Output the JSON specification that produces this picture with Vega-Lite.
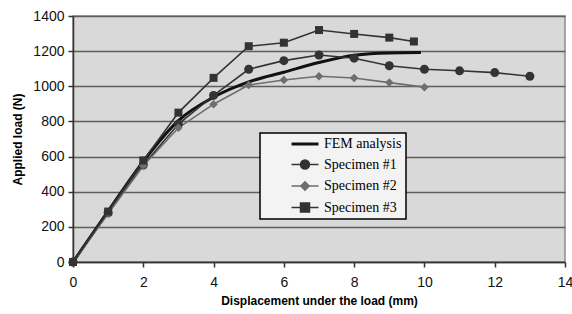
{
  "$schema": "https://vega.github.io/schema/vega-lite/v6.json",
  "width": 492,
  "height": 246,
  "autosize": "none",
  "padding": {"left": 73, "top": 16, "right": 7, "bottom": 52},
  "background": "white",
  "config": {
    "view": {"fill": "#d9d9d9", "stroke": "#8c8c8c", "strokeWidth": 1.5},
    "font": "Liberation Sans"
  },
  "data": {
    "values": [
      {"series": "FEM analysis", "d": 0, "load": 0},
      {"series": "FEM analysis", "d": 1, "load": 290},
      {"series": "FEM analysis", "d": 2, "load": 573},
      {"series": "FEM analysis", "d": 3, "load": 805},
      {"series": "FEM analysis", "d": 4, "load": 938},
      {"series": "FEM analysis", "d": 5, "load": 1025},
      {"series": "FEM analysis", "d": 6, "load": 1080},
      {"series": "FEM analysis", "d": 7, "load": 1135},
      {"series": "FEM analysis", "d": 8, "load": 1176},
      {"series": "FEM analysis", "d": 9, "load": 1190},
      {"series": "FEM analysis", "d": 9.9, "load": 1192},
      {"series": "Specimen #1", "d": 0, "load": 0},
      {"series": "Specimen #1", "d": 1, "load": 280},
      {"series": "Specimen #1", "d": 2, "load": 552},
      {"series": "Specimen #1", "d": 3, "load": 785},
      {"series": "Specimen #1", "d": 4, "load": 948},
      {"series": "Specimen #1", "d": 5, "load": 1097},
      {"series": "Specimen #1", "d": 6, "load": 1146},
      {"series": "Specimen #1", "d": 7, "load": 1178},
      {"series": "Specimen #1", "d": 8, "load": 1160},
      {"series": "Specimen #1", "d": 9, "load": 1117},
      {"series": "Specimen #1", "d": 10, "load": 1097},
      {"series": "Specimen #1", "d": 11, "load": 1088},
      {"series": "Specimen #1", "d": 12, "load": 1078},
      {"series": "Specimen #1", "d": 13, "load": 1057},
      {"series": "Specimen #2", "d": 0, "load": 0},
      {"series": "Specimen #2", "d": 1, "load": 275},
      {"series": "Specimen #2", "d": 2, "load": 548},
      {"series": "Specimen #2", "d": 3, "load": 764},
      {"series": "Specimen #2", "d": 4, "load": 898},
      {"series": "Specimen #2", "d": 5, "load": 1007},
      {"series": "Specimen #2", "d": 6, "load": 1036},
      {"series": "Specimen #2", "d": 7, "load": 1057},
      {"series": "Specimen #2", "d": 8, "load": 1047},
      {"series": "Specimen #2", "d": 9, "load": 1021},
      {"series": "Specimen #2", "d": 10, "load": 995},
      {"series": "Specimen #3", "d": 0, "load": 0},
      {"series": "Specimen #3", "d": 1, "load": 287},
      {"series": "Specimen #3", "d": 2, "load": 578},
      {"series": "Specimen #3", "d": 3, "load": 850},
      {"series": "Specimen #3", "d": 4, "load": 1048},
      {"series": "Specimen #3", "d": 5, "load": 1228},
      {"series": "Specimen #3", "d": 6, "load": 1248},
      {"series": "Specimen #3", "d": 7, "load": 1320},
      {"series": "Specimen #3", "d": 8, "load": 1298},
      {"series": "Specimen #3", "d": 9, "load": 1277},
      {"series": "Specimen #3", "d": 9.7, "load": 1255}
    ]
  },
  "encoding": {
    "x": {
      "field": "d",
      "type": "quantitative",
      "title": "Displacement under the load (mm)",
      "scale": {"domain": [0, 14], "nice": false, "zero": true},
      "axis": {
        "values": [0, 2, 4, 6, 8, 10, 12, 14],
        "format": "d",
        "grid": false,
        "domainColor": "#333333",
        "domainWidth": 1.5,
        "tickColor": "#333333",
        "tickWidth": 1.5,
        "tickSize": 5,
        "labelFontSize": 14,
        "labelColor": "#111111",
        "labelPadding": 8,
        "labelFlush": false,
        "labelOverlap": false,
        "titleFontSize": 12,
        "titleFontWeight": "bold",
        "titleColor": "#000000",
        "titlePadding": 6
      }
    },
    "y": {
      "field": "load",
      "type": "quantitative",
      "title": "Applied load (N)",
      "scale": {"domain": [0, 1400], "nice": false},
      "axis": {
        "values": [0, 200, 400, 600, 800, 1000, 1200, 1400],
        "format": "d",
        "grid": true,
        "gridColor": "#5e5e5e",
        "gridWidth": 1.5,
        "domainColor": "#333333",
        "domainWidth": 1.5,
        "tickColor": "#333333",
        "tickWidth": 1.5,
        "tickSize": 5,
        "labelFontSize": 14,
        "labelColor": "#111111",
        "labelPadding": 4,
        "labelFlush": false,
        "labelOverlap": false,
        "titleFontSize": 12,
        "titleFontWeight": "bold",
        "titleColor": "#000000",
        "titlePadding": 8
      }
    },
    "color": {
      "field": "series",
      "type": "nominal",
      "scale": {
        "domain": ["FEM analysis", "Specimen #1", "Specimen #2", "Specimen #3"],
        "range": ["#111111", "#333333", "#6e6e6e", "#333333"]
      },
      "legend": {
        "title": null,
        "orient": "none",
        "legendX": 187,
        "legendY": 117,
        "padding": 4,
        "rowPadding": 5.5,
        "symbolOffset": 34,
        "labelOffset": 12,
        "symbolSize": 81,
        "fillColor": "#f3f3f3",
        "strokeColor": "#000000",
        "labelFont": "Liberation Serif",
        "labelFontSize": 14,
        "labelColor": "#000000",
        "labelExpr": "datum.label + '\u00a0\u00a0\u00a0\u00a0\u00a0\u00a0\u00a0'",
        "encode": {
          "legend": {"update": {"strokeWidth": {"value": 1.5}}},
          "symbols": {
            "update": {
              "shape": {"signal": "datum.value == 'FEM analysis' ? 'M-3,0H3' : datum.value == 'Specimen #1' ? 'M-3,0H3M1,0A1,1 0 1,1 -1,0A1,1 0 1,1 1,0Z' : datum.value == 'Specimen #2' ? 'M-3,0H3M0,-0.95L0.95,0L0,0.95L-0.95,0Z' : 'M-3,0H3M-1,-1H1V1H-1Z'"},
              "strokeWidth": {"signal": "datum.value == 'FEM analysis' ? 3 : 1.5"},
              "stroke": {"signal": "datum.value == 'FEM analysis' ? '#111111' : datum.value == 'Specimen #2' ? '#6e6e6e' : '#333333'"},
              "fill": {"signal": "datum.value == 'FEM analysis' ? '#111111' : datum.value == 'Specimen #2' ? '#6e6e6e' : '#333333'"},
              "opacity": {"value": 1},
              "fillOpacity": {"value": 1},
              "strokeOpacity": {"value": 1}
            }
          }
        }
      }
    }
  },
  "layer": [
    {
      "transform": [{"filter": "datum.series == 'FEM analysis'"}],
      "mark": {"type": "line", "interpolate": "monotone", "strokeWidth": 3}
    },
    {
      "transform": [{"filter": "datum.series != 'FEM analysis'"}],
      "mark": {"type": "line", "strokeWidth": 1.6}
    },
    {
      "transform": [{"filter": "datum.series != 'FEM analysis'"}],
      "mark": {"type": "point", "filled": true, "opacity": 1},
      "encoding": {
        "shape": {
          "field": "series",
          "type": "nominal",
          "scale": {
            "domain": ["Specimen #1", "Specimen #2", "Specimen #3"],
            "range": ["circle", "diamond", "square"]
          },
          "legend": null
        },
        "size": {
          "field": "series",
          "type": "nominal",
          "scale": {
            "domain": ["Specimen #1", "Specimen #2", "Specimen #3"],
            "range": [81, 64, 81]
          },
          "legend": null
        }
      }
    }
  ]
}
